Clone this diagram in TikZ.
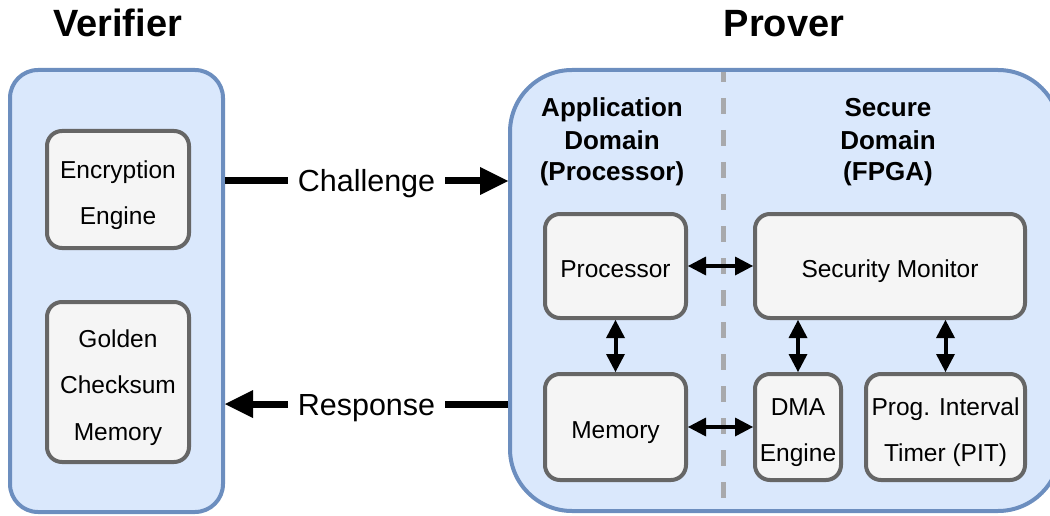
\documentclass[tikz,border=0pt]{standalone}
\usepackage{fontspec}
\setmainfont{Liberation Sans}
\usetikzlibrary{arrows.meta}

\definecolor{outerfill}{HTML}{DAE8FC}
\definecolor{outerline}{HTML}{6C8EBF}
\definecolor{innerfill}{HTML}{F5F5F5}
\definecolor{innerline}{HTML}{666666}
\definecolor{dividergray}{HTML}{A8A9AC}

\tikzset{
  % large rounded containers
  container/.style={draw=outerline, fill=outerfill, line width=4pt,
    rectangle, inner sep=0pt},
  % grey component blocks (text height covers all lines above the last baseline)
  block/.style={draw=innerline, fill=innerfill, line width=4pt,
    rectangle, rounded corners=15pt, inner sep=2pt, align=center,
    font=\fontsize{24.5pt}{46.3pt}\selectfont,
    text height=23.5pt, text depth=0pt},
  twolines/.style={text height=69.8pt},
  threelines/.style={text height=116.1pt},
  sidetitle/.style={font=\fontsize{38pt}{40pt}\selectfont\bfseries,
    anchor=base, inner sep=0pt},
  domaintitle/.style={font=\fontsize{26pt}{32pt}\selectfont\bfseries,
    align=center, inner sep=0pt, text height=83pt, text depth=0pt},
  edgelabel/.style={fill=white, font=\fontsize{30.5pt}{32pt}\selectfont,
    inner xsep=10pt, inner ysep=2pt, text height=22pt, text depth=0pt},
  bigarrow/.style={line width=7pt,
    -{Triangle[length=28pt,width=28pt,line width=0pt]}},
  linkarrow/.style={line width=4pt,
    {Triangle[length=18pt,width=19pt,line width=0pt]}-{Triangle[length=18pt,width=19pt,line width=0pt]}},
  divider/.style={draw=dividergray, line width=5pt,
    dash pattern=on 16pt off 16pt, dash phase=6pt},
}

\begin{document}
\begin{tikzpicture}[x=1pt, y=-1pt]
  \useasboundingbox (0,0) rectangle (1050,516);

  % titles
  \node[sidetitle] (vtitle) at (117.5,37) {Verifier};
  \node[sidetitle] (ptitle) at (784,37) {Prover};

  % containers
  \node[container, rounded corners=28pt, minimum width=213pt,
        minimum height=442pt] (verifier) at (116.5,291) {};
  \node[container, rounded corners=62pt, minimum width=550pt,
        minimum height=441pt] (prover) at (785,290.5) {};

  % split between application and secure domain
  \coordinate (divtop) at (723.5,72);
  \coordinate (divbot) at (723.5,498);
  \draw[divider] (divtop) -- (divbot);

  % domain headings
  \node[domaintitle] (apptitle) at (612,139.5) {Application\\Domain\\(Processor)};
  \node[domaintitle] (sectitle) at (888,139.5) {Secure\\Domain\\(FPGA)};

  % verifier components
  \node[block, twolines, minimum width=142pt, minimum height=117pt] (enc)
    at (118,189.5) {Encryption\\Engine};
  \node[block, threelines, minimum width=142pt, minimum height=160pt] (gold)
    at (118,382) {Golden\\Checksum\\Memory};

  % prover components
  \node[block, minimum width=141pt, minimum height=104pt] (proc) at (615.5,266)
    {Processor};
  \node[block, minimum width=141pt, minimum height=106pt] (mem) at (615.5,427)
    {Memory};
  \node[block, minimum width=270pt, minimum height=104pt] (sm) at (890,266)
    {Security Monitor};
  \node[block, twolines, minimum width=86pt, minimum height=106pt] (dma)
    at (798,427) {DMA\\Engine};
  \node[block, twolines, minimum width=159pt, minimum height=106pt] (pit)
    at (945.5,427) {Prog. Interval\\Timer (PIT)};

  % internal links
  \draw[linkarrow] (proc.east) -- (sm.west);
  \draw[linkarrow] (mem.east) -- (dma.west);
  \draw[linkarrow] (proc.south) -- (mem.north);
  \draw[linkarrow] (sm.south -| dma.north) -- (dma.north);
  \draw[linkarrow] (sm.south -| pit.north) -- (pit.north);

  % protocol messages
  \coordinate (chaly) at (0,181);
  \coordinate (respy) at (0,404);
  \draw[bigarrow] (verifier.east |- chaly) --
    node[edgelabel] (chal) {Challenge} (prover.west |- chaly);
  \draw[bigarrow] (prover.west |- respy) --
    node[edgelabel] (resp) {Response} (verifier.east |- respy);
\end{tikzpicture}
\end{document}
